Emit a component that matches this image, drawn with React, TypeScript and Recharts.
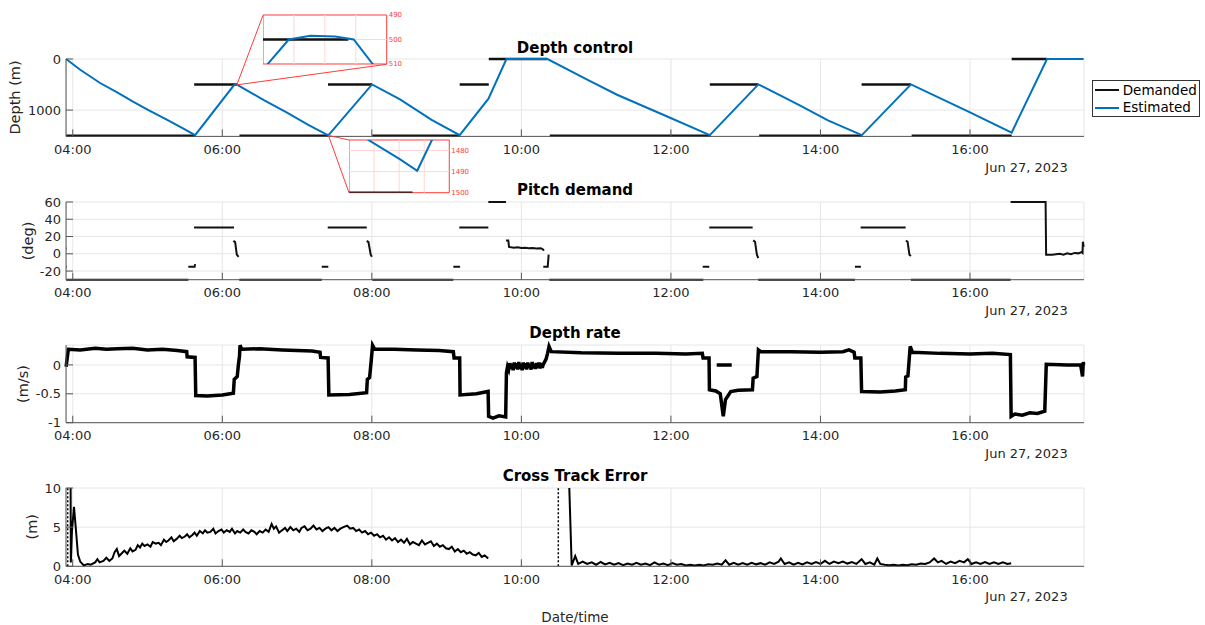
import React from 'react';
import {
  CartesianGrid,
  Legend,
  Line,
  LineChart,
  ReferenceArea,
  ReferenceLine,
  XAxis,
  YAxis,
} from 'recharts';

type Pt = [number, number | null];

// time axis, decimal hours on Jun 27, 2023
const T0 = 3.9104;
const T1 = 17.524;
const hourTicks = [4, 6, 8, 10, 12, 14, 16];

// Depth control (m)
const depthDemanded: Pt[] = [
  [3.912, 1500], [5.637, 1500], [5.637, null],
  [5.624, 500], [6.1964, 500], [6.1964, null],
  [6.23, 1500], [7.418, 1500], [7.418, null],
  [7.414, 500], [8.003, 500], [8.003, null],
  [8.006, 1500], [9.175, 1500], [9.175, null],
  [9.175, 500], [9.564, 500], [9.564, null],
  [9.564, 0], [10.345, 0], [10.345, null],
  [10.38, 1500], [12.53, 1500], [12.53, null],
  [12.52, 500], [13.165, 500], [13.165, null],
  [13.18, 1500], [14.553, 1500], [14.553, null],
  [14.55, 500], [15.21, 500], [15.21, null],
  [15.22, 1500], [16.557, 1500], [16.557, null],
  [16.557, 0], [17.025, 0],
];

const depthEstimated: Pt[] = [
  [3.911, 0], [4.1, 210], [4.366, 470], [4.6, 660], [4.8, 830], [5.0, 990], [5.257, 1188],
  [5.45, 1340], [5.637, 1490],
  [6.1573, 510], [6.1675, 500], [6.178, 498.5], [6.19, 498.8], [6.199, 500], [6.2082, 510],
  [6.55, 800], [6.86, 1047], [7.15, 1290],
  [7.3916, 1475], [7.4106, 1484.2], [7.4208, 1489.6], [7.4296, 1475],
  [8.003, 497], [8.377, 790], [8.8, 1190], [9.175, 1490], [9.56, 778], [9.8, 0], [10.35, 0],
  [10.9, 420], [11.28, 700], [11.95, 1125], [12.52, 1490], [13.17, 497],
  [13.73, 914], [14.1, 1200], [14.553, 1490], [15.21, 497], [16.0, 1045], [16.557, 1440],
  [17.03, 0], [17.52, 0],
];

// Pitch demand (deg)
const pitchDemand: Pt[] = [
  [3.911, 6], [3.918, 6], [3.918, null],
  [3.911, -15], [3.918, -15], [3.918, null],
  [3.912, -30], [5.546, -30], [5.546, null],
  [5.546, -15], [5.63, -15], [5.636, -12], [5.636, null],
  [5.622, 30.5], [6.157, 30.5], [6.157, null],
  [6.148, 15], [6.172, 13.5], [6.194, -1], [6.218, -3.5], [6.218, null],
  [6.228, -30], [7.33, -30], [7.33, null],
  [7.33, -15], [7.418, -15], [7.418, null],
  [7.41, 30.5], [7.932, 30.5], [7.932, null],
  [7.932, 15], [7.955, 13.5], [7.985, -1], [8.0, -3.5], [8.0, null],
  [8.006, -30], [9.09, -30], [9.09, null],
  [9.09, -15], [9.18, -15], [9.18, null],
  [9.17, 30.5], [9.558, 30.5], [9.558, null],
  [9.558, 60], [9.794, 60], [9.794, null],
  [9.794, 15.5], [9.825, 15.5], [9.835, 8], [9.9, 7], [9.95, 7.5], [10.0, 6.8], [10.05, 7],
  [10.1, 6.5], [10.15, 6.8], [10.2, 6.2], [10.26, 6.5], [10.29, 5], [10.3, 3.5], [10.3, null],
  [10.293, -15], [10.352, -15], [10.365, -1], [10.365, null],
  [10.373, -30], [12.433, -30], [12.433, null],
  [12.425, -15], [12.513, -15], [12.513, null],
  [12.513, 30.5], [13.093, 30.5], [13.093, null],
  [13.1, 15.5], [13.125, 14], [13.15, -1], [13.168, -5], [13.168, null],
  [13.168, -30], [14.461, -30], [14.461, null],
  [14.461, -15], [14.541, -15], [14.541, null],
  [14.537, 30.5], [15.139, 30.5], [15.139, null],
  [15.143, 15.5], [15.165, 14], [15.19, -1], [15.21, -2.5], [15.21, null],
  [15.21, -30], [16.543, -30], [16.543, null],
  [16.543, 60], [17.011, 60], [17.018, -1], [17.1, -1.2], [17.2, 0], [17.25, -1], [17.3, 0.5],
  [17.35, -0.5], [17.4, 1], [17.45, 0.5], [17.49, 2], [17.505, 1], [17.51, 14], [17.52, 8],
];

// Depth rate (m/s)
const depthRate: Pt[] = [
  [3.911, -0.03], [3.941, 0.27], [4.1, 0.26], [4.3, 0.29], [4.45, 0.27], [4.6, 0.28], [4.8, 0.29],
  [5.0, 0.26], [5.2, 0.27], [5.4, 0.25], [5.524, 0.23], [5.53, 0.14], [5.636, 0.13],
  [5.645, -0.53], [5.8, -0.54], [6.0, -0.52], [6.148, -0.49],
  [6.16, -0.25], [6.2, -0.2], [6.215, 0.0], [6.23, 0.15], [6.237, 0.34], [6.26, 0.27],
  [6.5, 0.28], [6.8, 0.26], [7.0, 0.25], [7.2, 0.24], [7.307, 0.22],
  [7.315, 0.13], [7.415, 0.12],
  [7.425, -0.52], [7.7, -0.51], [7.93, -0.48],
  [7.94, -0.25], [7.97, -0.22], [7.99, 0.05], [8.01, 0.34], [8.04, 0.27],
  [8.3, 0.27], [8.6, 0.26], [8.9, 0.25], [9.09, 0.23],
  [9.1, 0.12], [9.175, 0.12],
  [9.18, -0.52], [9.4, -0.5], [9.555, -0.46],
  [9.562, -0.89], [9.62, -0.92], [9.7, -0.88], [9.79, -0.9],
  [9.8, -0.14], [9.815, -0.03], [9.83, -0.08], [9.845, 0.03], [9.86, -0.07], [9.875, 0.02],
  [9.89, -0.09], [9.905, 0.04], [9.92, -0.06], [9.935, 0.03], [9.95, -0.08], [9.965, 0.05],
  [9.98, -0.07], [9.995, 0.02], [10.01, -0.09], [10.025, 0.04], [10.04, -0.06], [10.055, 0.03],
  [10.07, -0.08], [10.085, 0.04], [10.1, -0.05], [10.115, 0.02], [10.13, -0.08], [10.145, 0.05],
  [10.16, -0.06], [10.175, 0.02], [10.19, -0.07], [10.205, 0.03], [10.22, -0.05], [10.235, 0.04],
  [10.25, -0.06], [10.265, 0.03], [10.28, -0.05], [10.29, 0.0],
  [10.33, 0.1], [10.35, 0.2], [10.37, 0.32], [10.4, 0.23],
  [10.8, 0.21], [11.3, 0.2], [11.8, 0.2], [12.2, 0.19], [12.42, 0.2],
  [12.43, 0.12], [12.51, 0.12],
  [12.515, -0.43], [12.6, -0.45], [12.66, -0.5], [12.7, -0.89], [12.73, -0.6], [12.8, -0.46],
  [12.9, -0.44], [13.09, -0.43],
  [13.1, -0.23], [13.15, -0.2], [13.17, 0.26], [13.2, 0.23],
  [13.6, 0.23], [14.0, 0.22], [14.3, 0.23], [14.38, 0.26], [14.45, 0.22],
  [14.46, 0.12], [14.54, 0.12],
  [14.55, -0.46], [14.8, -0.47], [15.0, -0.45], [15.135, -0.43],
  [15.14, -0.21], [15.17, -0.19], [15.2, 0.32], [15.23, 0.22],
  [15.6, 0.2], [16.0, 0.19], [16.3, 0.2], [16.54, 0.18],
  [16.55, -0.89], [16.6, -0.85], [16.7, -0.87], [16.8, -0.83], [16.9, -0.84], [17.0, -0.8],
  [17.02, 0.01], [17.3, 0.0], [17.48, 0.0], [17.505, -0.2], [17.515, 0.05], [17.52, 0.0],
  [17.52, null],
  [12.612, 0], [12.813, 0],
];

// Cross track error (m)
const crossTrack: Pt[] = [
  [3.972, 10], [3.975, 0.5], [3.99, 4.5], [4.017, 7.6], [4.04, 5], [4.07, 1.5], [4.1, 0.6],
  [4.15, 0.1], [4.2, 0.3], [4.24, 0.2], [4.3, 0.5], [4.33, 0.9], [4.36, 0.5], [4.41, 0.7],
  [4.45, 1.1], [4.49, 0.7], [4.53, 1.0], [4.56, 1.8], [4.59, 2.2], [4.62, 1.3], [4.66, 1.7],
  [4.69, 2.0], [4.73, 1.6], [4.77, 2.3], [4.8, 1.9], [4.84, 2.1], [4.87, 2.7], [4.9, 2.4],
  [4.93, 2.9], [4.96, 2.6], [5.0, 2.8], [5.04, 2.5], [5.07, 3.1], [5.11, 2.9], [5.15, 3.0],
  [5.18, 2.7], [5.22, 3.4], [5.25, 3.1], [5.28, 3.3], [5.32, 3.7], [5.35, 3.2], [5.39, 3.5],
  [5.43, 3.9], [5.46, 3.6], [5.5, 3.8], [5.53, 4.1], [5.56, 3.7], [5.6, 4.0], [5.63, 4.3],
  [5.66, 3.9], [5.7, 4.5], [5.74, 4.2], [5.77, 4.6], [5.8, 4.3], [5.84, 4.4], [5.88, 4.8],
  [5.91, 4.2], [5.95, 4.5], [5.99, 4.7], [6.02, 4.3], [6.06, 4.6], [6.1, 4.4], [6.13, 4.8],
  [6.17, 4.2], [6.2, 4.5], [6.24, 4.3], [6.28, 4.7], [6.31, 4.4], [6.35, 4.2], [6.39, 4.6],
  [6.43, 4.4], [6.46, 4.1], [6.5, 4.5], [6.54, 4.3], [6.58, 4.7], [6.62, 4.4], [6.66, 5.4],
  [6.69, 4.8], [6.72, 5.1], [6.76, 4.3], [6.8, 4.6], [6.84, 4.9], [6.87, 4.5], [6.91, 5.0],
  [6.95, 4.6], [6.99, 4.8], [7.03, 4.4], [7.06, 4.9], [7.1, 5.1], [7.14, 4.6], [7.18, 4.8],
  [7.22, 5.2], [7.26, 4.7], [7.3, 4.9], [7.34, 4.5], [7.38, 4.8], [7.42, 5.0], [7.46, 4.6],
  [7.5, 4.9], [7.54, 4.5], [7.58, 4.8], [7.62, 5.0], [7.67, 5.2], [7.71, 4.8], [7.75, 4.9],
  [7.79, 4.5], [7.83, 4.7], [7.87, 4.3], [7.91, 4.5], [7.95, 4.1], [7.99, 4.3], [8.03, 3.9],
  [8.07, 4.1], [8.11, 3.7], [8.15, 3.9], [8.19, 3.4], [8.23, 3.7], [8.27, 3.3], [8.31, 3.6],
  [8.35, 3.1], [8.39, 3.4], [8.43, 3.0], [8.47, 3.5], [8.51, 2.8], [8.55, 3.1], [8.59, 2.9],
  [8.63, 2.7], [8.67, 3.3], [8.71, 2.8], [8.75, 3.0], [8.79, 3.2], [8.83, 2.6], [8.87, 2.9],
  [8.91, 2.5], [8.95, 2.7], [8.99, 2.3], [9.03, 2.2], [9.07, 2.5], [9.11, 1.9], [9.15, 2.2],
  [9.19, 1.8], [9.23, 2.0], [9.27, 1.6], [9.31, 1.8], [9.35, 1.5], [9.39, 1.4], [9.43, 1.7],
  [9.47, 1.2], [9.51, 1.4], [9.556, 1.0],
  [9.556, null],
  [10.641, 10], [10.673, 0.1], [10.72, 1.3], [10.76, 0.3], [10.82, 0.6], [10.88, 0.3],
  [10.94, 0.5], [11.0, 0.2], [11.06, 0.55], [11.12, 0.25], [11.18, 0.45], [11.24, 0.2],
  [11.3, 0.4], [11.36, 0.15], [11.42, 0.35], [11.48, 0.2], [11.54, 0.45], [11.6, 0.2],
  [11.66, 0.35], [11.72, 0.15], [11.78, 0.5], [11.84, 0.2], [11.9, 0.35], [11.96, 0.15],
  [12.02, 0.4], [12.08, 0.2], [12.14, 0.3], [12.2, 0.1], [12.26, 0.2], [12.32, 0.1],
  [12.38, 0.2], [12.44, 0.1], [12.5, 0.25], [12.56, 0.2], [12.62, 0.35], [12.68, 0.2],
  [12.73, 0.77], [12.78, 0.2], [12.84, 0.45], [12.9, 0.2], [12.96, 0.4], [13.02, 0.2],
  [13.08, 0.45], [13.14, 0.25], [13.2, 0.4], [13.26, 0.2], [13.32, 0.5], [13.38, 0.3],
  [13.44, 0.6], [13.47, 1.0], [13.52, 0.3], [13.58, 0.5], [13.64, 0.2], [13.7, 0.45],
  [13.76, 0.25], [13.82, 0.5], [13.88, 0.3], [13.94, 0.55], [14.0, 0.3], [14.06, 0.7],
  [14.12, 0.3], [14.18, 0.6], [14.24, 0.4], [14.3, 0.6], [14.36, 0.35], [14.42, 0.55],
  [14.48, 0.3], [14.55, 0.9], [14.6, 0.3], [14.66, 0.5], [14.72, 0.2], [14.76, 1.0],
  [14.8, 0.3], [14.86, 0.2], [14.92, 0.15], [14.98, 0.2], [15.04, 0.1], [15.1, 0.2],
  [15.16, 0.15], [15.22, 0.25], [15.28, 0.2], [15.34, 0.35], [15.4, 0.3], [15.46, 0.5],
  [15.52, 1.0], [15.57, 0.5], [15.62, 0.7], [15.68, 0.3], [15.74, 0.6], [15.8, 0.4],
  [15.86, 0.7], [15.92, 0.5], [15.97, 0.9], [16.02, 0.3], [16.08, 0.5], [16.14, 0.3],
  [16.2, 0.55], [16.26, 0.3], [16.32, 0.5], [16.38, 0.3], [16.44, 0.5], [16.5, 0.3], [16.55, 0.4],
];
const xteMarkers = [3.933, 10.494];

const depthTicks = [0, 1000];
const pitchTicks = [-20, 0, 20, 40, 60];
const rateTicks = [-1, -0.5, 0];
const xteTicks = [0, 5, 10];

const rows = (pts: Pt[]) => pts.map(([t, v]) => ({ t, v }));
const fmtHour = (h: number) => `${String(h).padStart(2, '0')}:00`;

const FONT = '"DejaVu Sans", sans-serif';
const TXT = '#262626';
const BLUE = '#0072BD';
const RED = '#ff3b3b';

// layout
const PLOT_L = 66;
const PLOT_R = 1084;
const MT = 20;
const XH = 30;
const DEPTH_MAX = 1515;
const panels = {
  depth: { top: 59.3, bottom: 136.7 },
  pitch: { top: 202.3, bottom: 280 },
  rate: { top: 345, bottom: 422.7 },
  xte: { top: 487.7, bottom: 566 },
};

const depthPx = (t: number, d: number) => [
  PLOT_L + ((t - T0) / (T1 - T0)) * (PLOT_R - PLOT_L),
  panels.depth.top + (d / DEPTH_MAX) * (panels.depth.bottom - panels.depth.top),
];

type PanelProps = {
  top: number;
  bottom: number;
  domain: [number, number];
  ticks: number[];
  reversed?: boolean;
  children: React.ReactNode;
};

const Panel = ({ top, bottom, domain, ticks, reversed, children }: PanelProps) => (
  <div style={{ position: 'absolute', left: 0, top: top - MT }}>
    <LineChart
      width={1205}
      height={MT + (bottom - top) + XH}
      margin={{ top: MT, right: 1205 - PLOT_R, bottom: 0, left: 0 }}
    >
      <CartesianGrid stroke="#e6e6e6" />
      <XAxis
        type="number"
        dataKey="t"
        domain={[T0, T1]}
        ticks={hourTicks}
        interval={0}
        tickFormatter={fmtHour}
        height={XH}
        tickSize={-7}
        tickMargin={15}
        stroke="#555"
        tick={{ fill: TXT, fontSize: 13 }}
      />
      <YAxis
        type="number"
        domain={domain}
        ticks={ticks}
        interval={0}
        reversed={reversed}
        width={PLOT_L}
        tickSize={-7}
        tickMargin={12}
        stroke="#555"
        tick={{ fill: TXT, fontSize: 13 }}
      />
      {children}
    </LineChart>
  </div>
);

const LegendBox = (props: any) => (
  <div
    style={{
      width: 108,
      height: 37,
      boxSizing: 'border-box',
      border: '1px solid #333',
      background: '#fff',
      paddingTop: 0.5,
      fontFamily: FONT,
    }}
  >
    {(props.payload || []).map((e: any) => (
      <div key={e.value} style={{ display: 'flex', alignItems: 'center', height: 17.4 }}>
        <div style={{ marginLeft: 2, width: 24, height: 2, background: e.color }} />
        <span style={{ marginLeft: 4, fontSize: 13.5, color: '#000', lineHeight: '17px' }}>{e.value}</span>
      </div>
    ))}
  </div>
);

type InsetProps = {
  left: number;
  top: number;
  width: number;
  height: number;
  xDomain: [number, number];
  xGrid: number[];
  yDomain: [number, number];
  yTicks: number[];
  yGrid: number[];
};

const Inset = ({ left, top, width, height, xDomain, xGrid, yDomain, yTicks, yGrid }: InsetProps) => {
  const M = 6;
  const AW = 26;
  return (
    <div style={{ position: 'absolute', left, top: top - M }}>
      <div style={{ position: 'absolute', left: 0, top: M, width, height, background: '#fff' }} />
      <LineChart width={width + AW} height={height + 2 * M} margin={{ top: M, right: 0, bottom: M, left: 0 }}>
        <XAxis type="number" dataKey="t" domain={xDomain} allowDataOverflow hide />
        <YAxis
          type="number"
          orientation="right"
          domain={yDomain}
          reversed
          allowDataOverflow
          ticks={yTicks}
          interval={0}
          width={AW}
          tickSize={0}
          tickMargin={2}
          axisLine={false}
          tickLine={false}
          tick={{ fill: RED, fontSize: 7 }}
        />
        {xGrid.map((x) => (
          <ReferenceLine key={`x${x}`} x={x} stroke="#ffd6d6" />
        ))}
        {yGrid.map((y) => (
          <ReferenceLine key={`y${y}`} y={y} stroke="#ffd6d6" />
        ))}
        <Line data={rows(depthDemanded)} dataKey="v" stroke="#111" strokeWidth={2.5} dot={false} isAnimationActive={false} />
        <Line data={rows(depthEstimated)} dataKey="v" stroke={BLUE} strokeWidth={2} dot={false} isAnimationActive={false} />
        <ReferenceArea
          x1={xDomain[0]}
          x2={xDomain[1]}
          y1={yDomain[0]}
          y2={yDomain[1]}
          fill="none"
          fillOpacity={0}
          stroke={RED}
          strokeWidth={1}
        />
      </LineChart>
    </div>
  );
};

const titles = [
  { text: 'Depth control', y: 47.5 },
  { text: 'Pitch demand', y: 189.5 },
  { text: 'Depth rate', y: 333 },
  { text: 'Cross Track Error', y: 476 },
];
const yLabels = [
  { text: 'Depth (m)', x: 14.5, y: 97.5 },
  { text: '(deg)', x: 28.3, y: 241 },
  { text: '(m/s)', x: 23.3, y: 384 },
  { text: '(m)', x: 32, y: 526.7 },
];

const App = () => {
  const a1 = depthPx(6.195, 500);
  const a2 = depthPx(7.42, 1490);
  const box1 = { left: 263, top: 15.3, width: 123.7, height: 49 };
  const box2 = { left: 349, top: 140, width: 100.3, height: 52.7 };
  return (
    <div
      style={{
        position: 'absolute',
        left: 0,
        top: 0,
        width: 1205,
        height: 625,
        background: '#fff',
        fontFamily: FONT,
        overflow: 'hidden',
      }}
    >
      <Panel {...panels.depth} domain={[0, DEPTH_MAX]} ticks={depthTicks} reversed>
        <Line name="Demanded" data={rows(depthDemanded)} dataKey="v" stroke="#111" strokeWidth={2.5} dot={false} isAnimationActive={false} />
        <Line name="Estimated" data={rows(depthEstimated)} dataKey="v" stroke={BLUE} strokeWidth={2} dot={false} isAnimationActive={false} />
        <Legend
          layout="horizontal"
          align="center"
          verticalAlign="middle"
          wrapperStyle={{ left: 1091.7, top: 80 - (panels.depth.top - MT), width: 108, height: 37 }}
          content={LegendBox}
        />
      </Panel>

      <Panel {...panels.pitch} domain={[-30, 60]} ticks={pitchTicks}>
        <Line data={rows(pitchDemand)} dataKey="v" stroke="#111" strokeWidth={2} dot={false} isAnimationActive={false} />
      </Panel>

      <Panel {...panels.rate} domain={[-1, 0.345]} ticks={rateTicks}>
        <Line data={rows(depthRate)} dataKey="v" stroke="#000" strokeWidth={3.5} dot={false} isAnimationActive={false} />
      </Panel>

      <Panel {...panels.xte} domain={[0, 10]} ticks={xteTicks}>
        {xteMarkers.map((x) => (
          <ReferenceLine key={x} x={x} stroke="#000" strokeWidth={1.5} strokeDasharray="2 2" />
        ))}
        <Line data={rows(crossTrack)} dataKey="v" stroke="#000" strokeWidth={2} dot={false} isAnimationActive={false} />
      </Panel>

      <Inset
        {...box1}
        xDomain={[6.155, 6.215]}
        xGrid={[6.17, 6.185, 6.2]}
        yDomain={[490, 510]}
        yTicks={[490, 500, 510]}
        yGrid={[500]}
      />
      <Inset
        {...box2}
        xDomain={[7.38, 7.44]}
        xGrid={[7.395, 7.41, 7.425]}
        yDomain={[1475, 1500]}
        yTicks={[1480, 1490, 1500]}
        yGrid={[1480, 1490]}
      />

      <svg
        width={1205}
        height={625}
        style={{ position: 'absolute', left: 0, top: 0, pointerEvents: 'none' }}
        fontFamily={FONT}
      >
        <g stroke={RED} strokeWidth={1}>
          <line x1={a1[0]} y1={a1[1]} x2={box1.left} y2={box1.top} />
          <line x1={a1[0]} y1={a1[1]} x2={box1.left + box1.width} y2={box1.top + box1.height} />
          <line x1={a2[0]} y1={a2[1]} x2={box2.left} y2={box2.top} />
          <line x1={a2[0]} y1={a2[1]} x2={box2.left} y2={box2.top + box2.height} />
        </g>
        {titles.map((t) => (
          <text key={t.text} x={575} y={t.y} textAnchor="middle" dominantBaseline="central" fontSize={15} fontWeight="bold" fill="#000">
            {t.text}
          </text>
        ))}
        {yLabels.map((l) => (
          <text
            key={l.text}
            transform={`translate(${l.x},${l.y}) rotate(-90)`}
            textAnchor="middle"
            dominantBaseline="central"
            fontSize={14.5}
            fill={TXT}
          >
            {l.text}
          </text>
        ))}
        {Object.values(panels).map((p) => (
          <text key={p.bottom} x={1026.5} y={p.bottom + 30.7} textAnchor="middle" dominantBaseline="central" fontSize={13} fill={TXT}>
            Jun 27, 2023
          </text>
        ))}
        <text x={575} y={617} textAnchor="middle" dominantBaseline="central" fontSize={13.5} fill={TXT}>
          Date/time
        </text>
      </svg>
    </div>
  );
};

export default App;
